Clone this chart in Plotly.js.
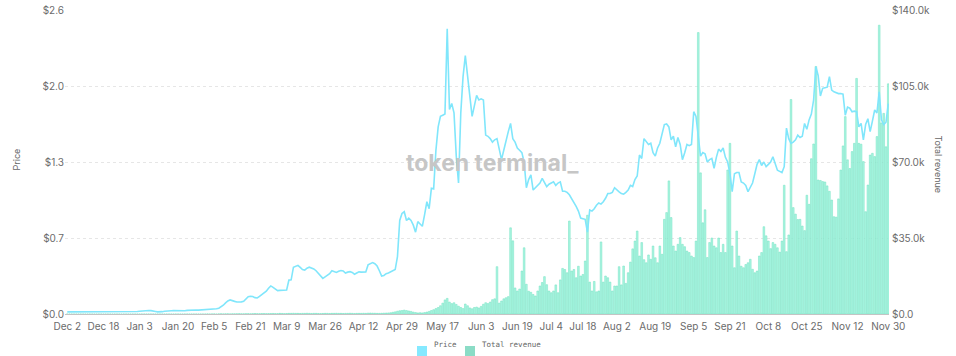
<!DOCTYPE html>
<html><head><meta charset="utf-8">
<script src="https://cdn.plot.ly/plotly-3.0.1.min.js"></script>
<style>html,body{margin:0;padding:0;background:#fff}#chart{width:956px;height:356px}</style>
</head><body><div id="chart"></div>
<script>
// Daily series, Dec 2 2020 .. Nov 30 2021 (364 days)
const price = [
0.018,0.018,0.017,0.018,0.017,0.017,0.018,0.017,0.017,0.016,
0.016,0.017,0.017,0.016,0.016,0.017,0.017,0.018,0.018,0.017,
0.017,0.016,0.016,0.017,0.017,0.017,0.018,0.018,0.019,0.020,
0.021,0.022,0.024,0.027,0.030,0.031,0.030,0.029,0.028,0.022,
0.018,0.017,0.020,0.024,0.027,0.028,0.028,0.029,0.028,0.027,
0.029,0.030,0.028,0.031,0.033,0.035,0.036,0.034,0.033,0.034,
0.033,0.034,0.035,0.036,0.038,0.042,0.045,0.050,0.060,0.075,
0.095,0.112,0.120,0.117,0.108,0.103,0.101,0.104,0.108,0.128,
0.148,0.152,0.150,0.140,0.137,0.150,0.165,0.180,0.195,0.220,
0.240,0.228,0.210,0.200,0.202,0.205,0.203,0.205,0.290,0.292,
0.400,0.410,0.416,0.398,0.380,0.375,0.392,0.400,0.395,0.385,
0.370,0.345,0.320,0.305,0.318,0.330,0.345,0.370,0.362,0.355,
0.365,0.372,0.368,0.350,0.358,0.362,0.355,0.340,0.350,0.360,
0.358,0.362,0.360,0.420,0.430,0.440,0.430,0.410,0.370,0.325,
0.330,0.345,0.350,0.360,0.370,0.380,0.490,0.800,0.860,0.875,
0.800,0.820,0.800,0.760,0.700,0.790,0.770,0.750,0.850,0.960,
0.900,1.075,1.070,1.400,1.600,1.690,1.700,1.710,2.440,1.750,
1.800,1.720,1.350,1.120,1.720,2.030,2.210,2.030,1.850,1.690,
1.780,1.870,1.830,1.840,1.830,1.530,1.520,1.500,1.470,1.490,
1.500,1.410,1.320,1.400,1.490,1.560,1.630,1.500,1.470,1.420,
1.400,1.380,1.300,1.080,1.150,1.190,1.060,1.080,1.100,1.120,
1.160,1.130,1.090,1.110,1.120,1.130,1.100,1.120,1.130,1.050,
1.050,1.040,1.020,0.990,0.960,0.920,0.880,0.820,0.815,0.810,
0.700,0.890,0.880,0.900,0.930,0.950,0.940,0.960,0.990,1.030,
1.030,1.040,1.080,1.060,1.045,1.030,1.025,1.040,1.060,1.100,
1.090,1.150,1.180,1.360,1.330,1.500,1.470,1.450,1.460,1.380,
1.350,1.420,1.460,1.550,1.620,1.625,1.600,1.490,1.520,1.430,
1.510,1.450,1.320,1.380,1.450,1.440,1.450,1.730,1.690,1.520,
1.350,1.380,1.370,1.300,1.320,1.330,1.245,1.340,1.410,1.390,
1.420,1.340,1.300,1.200,1.046,1.200,1.210,1.210,1.130,1.120,
1.100,1.046,1.080,1.120,1.200,1.280,1.320,1.270,1.300,1.260,
1.280,1.300,1.345,1.280,1.230,1.220,1.210,1.260,1.590,1.500,
1.460,1.470,1.490,1.530,1.510,1.520,1.630,1.580,1.660,1.710,
1.830,2.115,2.040,1.865,1.930,1.935,1.940,2.030,1.915,1.900,
1.890,1.885,1.885,1.880,1.700,1.770,1.760,1.730,1.735,1.730,
1.600,1.630,1.490,1.620,1.670,1.560,1.650,1.745,1.720,1.900,
1.660,1.620,1.640,1.800
];
// Total revenue, thousands of USD
const revenueK = [
0,0,0,0,0,0,0,0,0,0,
0,0,0,0,0,0,0,0,0,0,
0,0,0,0,0,0,0,0,0,0,
0,0,0,0,0,0,0,0,0,0,
0,0,0,0,0,0,0,0,0,0,
0,0,0,0,0,0,0,0,0,0,
0,0,0.05,0,0.05,0.05,0,0.05,0.1,0.05,
0.1,0.1,0.05,0.1,0.1,0.1,0.15,0.1,0.1,0.15,
0.15,0.1,0.15,0.2,0.15,0.15,0.2,0.2,0.15,0.2,
0.2,0.25,0.2,0.2,0.3,0.25,0.2,0.25,0.3,0.3,
0.35,0.3,0.3,0.25,0.3,0.3,0.35,0.3,0.25,0.3,
0.3,0.25,0.2,0.25,0.3,0.3,0.25,0.3,0.3,0.35,
0.3,0.3,0.25,0.3,0.3,0.35,0.3,0.25,0.3,0.3,
0.3,0.35,0.3,0.4,0.45,0.4,0.35,0.3,0.3,0.35,
0.4,0.45,0.5,0.6,0.8,1.0,1.3,1.5,1.6,1.8,
1.6,1.4,1.2,0.9,0.7,0.5,0.6,0.5,0.7,0.9,
1.2,1.6,2.0,2.5,3.0,3.8,5.0,6.5,7.2,5.5,
4.8,5.2,4.4,3.6,3.0,2.5,4.6,3.8,2.8,2.4,
3.0,3.2,2.8,3.5,4.5,5.2,4.8,5.5,6.6,7.0,
21.8,5.0,6.0,7.0,7.5,8.0,39.7,33.7,12.0,10.6,
11.5,19.8,30.5,13.7,10.5,10.0,9.0,8.3,10.6,12.9,
14.5,17.2,13.5,10.6,9.8,10.6,13.4,9.8,15.7,21.0,
20.5,19.0,42.8,19.8,20.5,16.7,22.0,17.5,18.2,24.4,
45.5,14.7,10.6,15.0,10.2,10.6,33.2,14.7,17.5,16.7,
14.7,10.6,12.9,12.9,21.8,13.4,22.1,14.1,19.0,23.9,
30.0,33.6,38.2,26.7,32.9,25.0,23.6,27.2,25.2,31.3,
25.9,23.6,31.3,27.5,43.6,46.7,61.3,44.4,31.3,29.0,
32.1,35.2,32.1,31.0,29.0,28.3,26.7,26.0,33.6,129.6,
65.0,42.0,48.0,26.0,32.9,35.0,31.3,30.5,35.0,28.3,
32.1,28.3,66.3,78.6,31.3,21.3,38.2,26.7,22.0,21.3,
22.8,23.6,25.2,20.6,19.0,19.8,26.7,28.3,40.2,36.0,
33.6,30.1,32.9,32.1,30.5,28.5,33.6,59.3,28.7,36.4,
98.8,49.0,46.0,43.5,43.6,40.5,38.4,54.7,50.5,71.5,
78.3,114.0,61.7,61.5,61.0,60.8,59.0,56.5,52.5,44.8,
44.6,53.0,66.3,77.4,90.9,71.0,67.0,74.8,78.6,108.5,
78.6,78.2,70.2,47.1,59.4,73.2,74.0,72.5,81.7,133.0,
88.0,92.4,77.0,106.0
];
const tickDates = ['2020-12-02','2020-12-18','2021-01-03','2021-01-20','2021-02-05','2021-02-21','2021-03-09','2021-03-26','2021-04-12','2021-04-29','2021-05-17','2021-06-03','2021-06-19','2021-07-04','2021-07-18','2021-08-02','2021-08-19','2021-09-05','2021-09-21','2021-10-08','2021-10-25','2021-11-12','2021-11-30'];
const tickLabels = ['Dec 2','Dec 18','Jan 3','Jan 20','Feb 5','Feb 21','Mar 9','Mar 26','Apr 12','Apr 29','May 17','Jun 3','Jun 19','Jul 4','Jul 18','Aug 2','Aug 19','Sep 5','Sep 21','Oct 8','Oct 25','Nov 12','Nov 30'];
const priceTicks = [0,0.65,1.3,1.95,2.6];
const priceTickLabels = ['$0.0','$0.7','$1.3','$2.0','$2.6'];
const revTicks = [0,35,70,105,140];
const revTickLabels = ['$0.0','$35.0k','$70.0k','$105.0k','$140.0k'];

function dayStr(i){ const d = new Date(Date.UTC(2020, 11, 2 + i)); return d.toISOString().slice(0, 10); }
const dates = price.map((_, i) => dayStr(i));

const tickFont = {family: 'Inter, "Open Sans", sans-serif', size: 10, color: '#6b6b6b'};
const L = 65, R = 889, T = 10, B = 314;
const px = x => (x - L) / (R - L);
const py = y => (B - y) / (B - T);

const traces = [
  {type: 'bar', name: 'Total revenue', x: dates, y: revenueK, yaxis: 'y',
   marker: {color: 'rgba(165,246,224,0.95)', line: {color: '#72e0c1', width: 0.5}}, showlegend: false},
  {type: 'scatter', mode: 'lines', name: 'Price', x: dates, y: price, yaxis: 'y2',
   line: {color: '#80e6fb', width: 1.6}, showlegend: false}
];

const layout = {
  width: 956, height: 356,
  margin: {l: L, r: 956 - R, t: T, b: 356 - B},
  paper_bgcolor: '#fff', plot_bgcolor: '#fff',
  bargap: 0.25,
  showlegend: false,
  xaxis: {type: 'date', range: ['2020-12-01T00:00', '2021-11-30T08:00'],
    tickvals: tickDates, ticktext: tickLabels, tickfont: tickFont, ticks: '',
    ticklabelstandoff: 3,
    showgrid: false, showline: true, linecolor: '#c4c4c4', linewidth: 1, zeroline: false},
  yaxis: {side: 'right', range: [0, 140], tickvals: revTicks, ticktext: revTickLabels,
    tickfont: tickFont, ticks: '', showgrid: true, gridcolor: '#e6e6e6', griddash: 'dot',
    zeroline: false, ticklabelstandoff: 2},
  yaxis2: {overlaying: 'y', side: 'left', range: [0, 2.6], tickvals: priceTicks,
    ticktext: priceTickLabels, tickfont: tickFont, ticks: '', showgrid: false, zeroline: false},
  annotations: [
    {xref: 'paper', yref: 'paper', x: px(492), y: py(163), text: '<b>token terminal_</b>',
     showarrow: false, font: {family: 'Inter, sans-serif', size: 23, color: '#c6c6c6'}},
    {xref: 'paper', yref: 'paper', x: px(8), y: py(160), text: 'Price', textangle: -90,
     showarrow: false, font: {family: 'Inter, sans-serif', size: 9, color: '#666'}},
    {xref: 'paper', yref: 'paper', x: px(946), y: py(165), text: 'Total revenue', textangle: 90,
     showarrow: false, font: {family: 'Inter, sans-serif', size: 9, color: '#666'}},
    {xref: 'paper', yref: 'paper', x: px(432), y: py(351), xanchor: 'left', text: 'Price',
     showarrow: false, font: {family: '"DejaVu Sans Mono", monospace', size: 7.5, color: '#666'}},
    {xref: 'paper', yref: 'paper', x: px(480), y: py(351), xanchor: 'left', text: 'Total revenue',
     showarrow: false, font: {family: '"DejaVu Sans Mono", monospace', size: 7.5, color: '#666'}}
  ],
  shapes: [
    {type: 'rect', xref: 'paper', yref: 'paper', x0: px(417), x1: px(427), y0: py(356), y1: py(346),
     fillcolor: '#85e9ff', line: {width: 0}},
    {type: 'rect', xref: 'paper', yref: 'paper', x0: px(465), x1: px(475), y0: py(356), y1: py(346),
     fillcolor: '#8bdcc6', line: {width: 0}}
  ]
};

Plotly.newPlot('chart', traces, layout, {displayModeBar: false, staticPlot: true});
</script>
</body></html>
